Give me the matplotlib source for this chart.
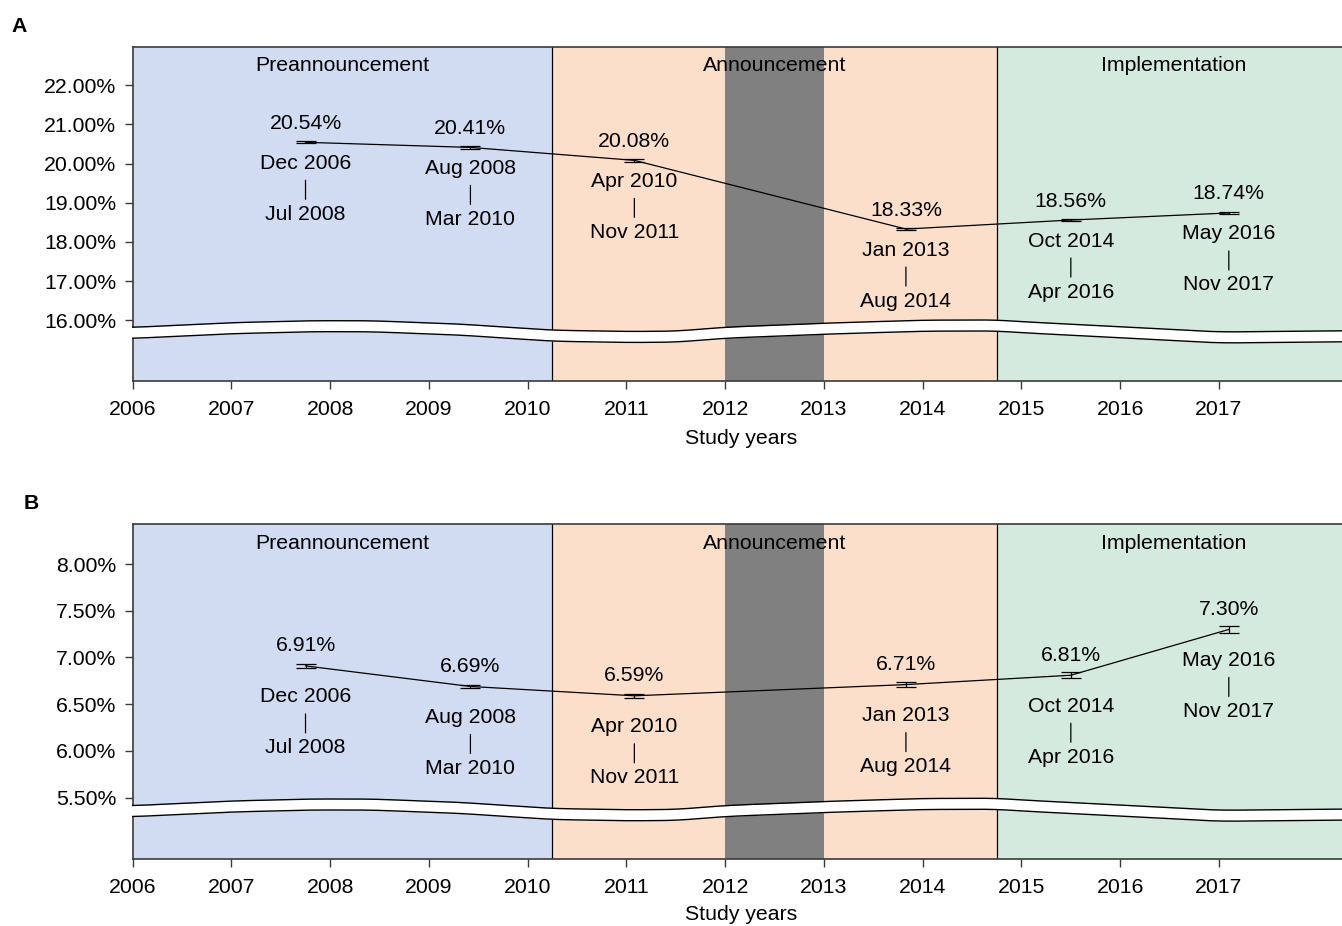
import numpy as np
import matplotlib
matplotlib.use("Agg")
import matplotlib.pyplot as plt
import matplotlib.transforms as mtransforms

plt.rcParams['font.family'] = ['Liberation Sans', 'DejaVu Sans']

# ---- data -------------------------------------------------------------
period_mid = [2007.75, 2009.42, 2011.08, 2013.83, 2015.5, 2017.1]
period_start = ["Dec 2006", "Aug 2008", "Apr 2010", "Jan 2013", "Oct 2014", "May 2016"]
period_end = ["Jul 2008", "Mar 2010", "Nov 2011", "Aug 2014", "Apr 2016", "Nov 2017"]

rate_a = [20.54, 20.41, 20.08, 18.33, 18.56, 18.74]
err_a = [0.03, 0.03, 0.03, 0.03, 0.03, 0.03]
rate_b = [6.91, 6.69, 6.59, 6.71, 6.81, 7.30]
err_b = [0.02, 0.02, 0.02, 0.03, 0.03, 0.04]

phase_names = ["Preannouncement", "Announcement", "Implementation"]
phase_edges = [2006.0, 2010.25, 2014.75, 2018.34]
phase_colors = ["#D1DCF3", "#FCDFCA", "#D4EADF"]
excluded_year = (2012.0, 2013.0)

year_ticks = list(range(2006, 2018))
yticks_a = [16, 17, 18, 19, 20, 21, 22]
yticks_b = [5.5, 6.0, 6.5, 7.0, 7.5, 8.0]

# shape of the axis-break ribbon: (year, height in px above the axes bottom)
break_x = [2006.0, 2007.0, 2007.8, 2008.4, 2009.3, 2010.25, 2011.0, 2011.5,
           2012.0, 2013.0, 2014.0, 2014.75, 2015.0, 2016.0, 2017.0, 2018.34]
break_h = [53.3, 58.0, 60.0, 60.0, 56.7, 50.5, 49.2, 49.5,
           53.5, 57.5, 60.5, 60.8, 59.0, 54.0, 48.7, 50.0]
break_gap = 11.0

# ---- figure -----------------------------------------------------------
W, H, DPI = 1342, 926, 100
fig = plt.figure(figsize=(W / DPI, H / DPI), dpi=DPI)

FS = 15.3
SPINE = "#3a3a3a"
LEFT_PX = 132.7
PX_PER_YEAR = 98.75


def px_axes(top_px, bottom_px):
    width_px = (phase_edges[-1] - phase_edges[0]) * PX_PER_YEAR
    return fig.add_axes([LEFT_PX / W, 1 - bottom_px / H,
                         width_px / W, (bottom_px - top_px) / H])


def draw_panel(ax, values, errs, yticks, ylim, up, down, ax_h_px):
    ax.set_xlim(phase_edges[0], phase_edges[-1])
    ax.set_ylim(*ylim)

    for (x0, x1), c in zip(zip(phase_edges[:-1], phase_edges[1:]), phase_colors):
        ax.axvspan(x0, x1, color=c, zorder=0, lw=0)
    ax.axvspan(*excluded_year, color="#808080", zorder=0.5, lw=0)
    for xb in phase_edges[1:-1]:
        ax.axvline(xb, color="black", lw=0.9, zorder=1)

    trans_top = mtransforms.blended_transform_factory(ax.transData, ax.transAxes)
    for (x0, x1), name in zip(zip(phase_edges[:-1], phase_edges[1:]), phase_names):
        ax.text((x0 + x1) / 2, 1 - 19 / ax_h_px, name, transform=trans_top,
                ha="center", va="center", fontsize=FS, zorder=5)

    ax.errorbar(period_mid, values, yerr=errs, color="black", lw=0.9,
                elinewidth=0.9, capsize=7.5, capthick=0.9, zorder=4)

    for x, v, s, e in zip(period_mid, values, period_start, period_end):
        ax.annotate(f"{v:.2f}%", (x, v), xytext=(0, up), textcoords="offset pixels",
                    ha="center", va="center", fontsize=FS, zorder=5)
        ax.annotate(s, (x, v), xytext=(0, -down), textcoords="offset pixels",
                    ha="center", va="center", fontsize=FS, zorder=5)
        # short connector between the window start and end dates
        bar_top = mtransforms.offset_copy(ax.transData, fig=fig, x=0,
                                          y=-down - 17, units="dots")
        ax.annotate("", xy=(x, v), xycoords=bar_top, xytext=(0, -19),
                    textcoords="offset pixels",
                    arrowprops=dict(arrowstyle="-", lw=0.9, color="black",
                                    shrinkA=0, shrinkB=0), zorder=5)
        ax.annotate(e, (x, v), xytext=(0, -down - 51), textcoords="offset pixels",
                    ha="center", va="center", fontsize=FS, zorder=5)

    # axis-break ribbon
    xs = np.linspace(phase_edges[0], phase_edges[-1], 800)
    hu = np.interp(xs, break_x, break_h)
    k = np.ones(25) / 25
    hu = np.convolve(np.pad(hu, 12, mode="edge"), k, mode="valid")
    hl = hu - break_gap
    xs_ext = xs.copy()
    xs_ext[0] -= 0.02
    up_f = hu / ax_h_px
    lo_f = hl / ax_h_px
    ax.fill_between(xs_ext, lo_f, up_f, transform=trans_top, color="white",
                    lw=0, zorder=3, clip_on=False)
    ax.plot(xs, up_f, transform=trans_top, color="black", lw=1.0, zorder=3.1,
            clip_on=False)
    ax.plot(xs, lo_f, transform=trans_top, color="black", lw=1.0, zorder=3.1,
            clip_on=False)

    ax.set_xticks(year_ticks)
    ax.set_xticklabels([str(y) for y in year_ticks])
    ax.set_yticks(yticks)
    ax.set_yticklabels([f"{t:.2f}%" for t in yticks])
    ax.tick_params(axis="both", direction="out", length=6, width=1.0,
                   color=SPINE, labelsize=FS, pad=6)
    ax.tick_params(axis="x", pad=8)
    ax.spines["right"].set_visible(False)
    for sp in ("left", "top", "bottom"):
        ax.spines[sp].set_color(SPINE)
        ax.spines[sp].set_linewidth(1.2)


ax_a = px_axes(46.7, 380.7)
draw_panel(ax_a, rate_a, err_a, yticks_a, (14.466, 22.976), 19, 21, 334.0)

ax_b = px_axes(524.3, 859.0)
draw_panel(ax_b, rate_b, err_b, yticks_b, (4.844, 8.425), 20, 31, 334.7)

fig.text(19.5 / W, 1 - 26 / H, "A", fontsize=FS, fontweight="bold",
         ha="center", va="center")
fig.text(31.5 / W, 1 - 503 / H, "B", fontsize=FS, fontweight="bold",
         ha="center", va="center")
fig.text(741 / W, 1 - 438 / H, "Study years", fontsize=FS, ha="center", va="center")
fig.text(741 / W, 1 - 915 / H, "Study years", fontsize=FS, ha="center", va="center")

fig.savefig("out.png", dpi=DPI)
